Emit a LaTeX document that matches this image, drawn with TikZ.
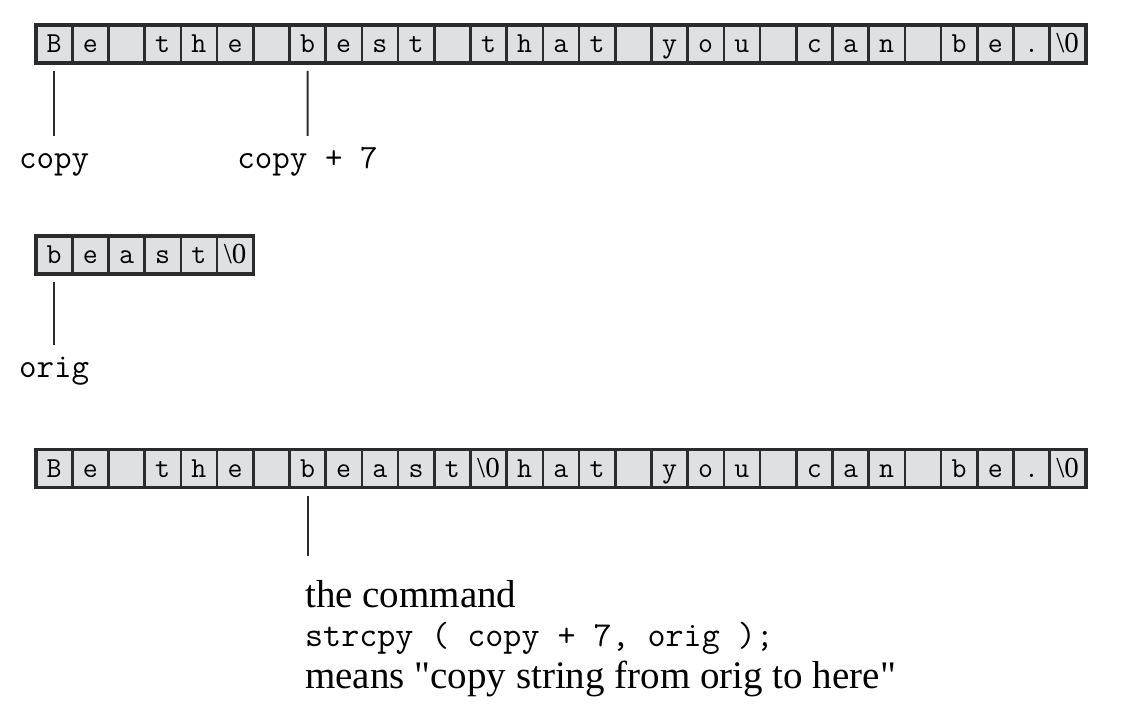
\documentclass[tikz,border=0pt]{standalone}
\usepackage{fontspec}
\setmainfont{Liberation Serif}
\usetikzlibrary{positioning}
\definecolor{cellfill}{HTML}{DFE0E2}
\definecolor{ink}{HTML}{2B2B2B}
\newcommand\nulchar{{\rmfamily\textbackslash 0}}
\tikzset{
  cell/.style={draw=ink, fill=cellfill, line width=2.6pt, minimum width=36.2pt,
    minimum height=38pt, inner sep=0pt, outer sep=0pt, text height=17pt, text depth=0pt,
    font=\fontsize{29}{29}\selectfont\ttfamily},
  rowframe/.style={draw=ink, line width=3.4pt},
  stem/.style={draw=ink, line width=2pt, shorten <=8pt, shorten >=18pt},
  lbl/.style={anchor=base, inner sep=0pt, text height=14pt, text depth=6pt,
    font=\fontsize{34}{34}\selectfont\ttfamily},
  note/.style={anchor=base west, inner sep=0pt, font=\fontsize{39}{39}\selectfont\rmfamily},
  code/.style={anchor=base west, inner sep=0pt, font=\fontsize{35}{35}\selectfont\ttfamily}
}
\begin{document}
\begin{tikzpicture}[x=1pt, y=-1pt]
    \useasboundingbox (0,0) rectangle (1140,706);
    % the copy string
    \foreach \ch [count=\i from 0] in {B,e,{},t,h,e,{},b,e,s,t,{},t,h,a,t,{},y,o,u,{},c,a,n,{},b,e,.,\nulchar}
      \node[cell] (top\i) at (54.1+36.2*\i,44) {\ch};
    \draw[rowframe] (top0.south west) rectangle (top28.north east);
    % the orig string
    \foreach \ch [count=\i from 0] in {b,e,a,s,t,\nulchar}
      \node[cell] (src\i) at (54.1+36.2*\i,255) {\ch};
    \draw[rowframe] (src0.south west) rectangle (src5.north east);
    % after strcpy
    \foreach \ch [count=\i from 0] in {B,e,{},t,h,e,{},b,e,a,s,t,\nulchar,h,a,t,{},y,o,u,{},c,a,n,{},b,e,.,\nulchar}
      \node[cell] (res\i) at (54.1+36.2*\i,468.5) {\ch};
    \draw[rowframe] (res0.south west) rectangle (res28.north east);
    % pointer labels
    \node[lbl] (copy) at (54.1,168) {copy};
    \node[lbl] (copyseven) at (307.5,168) {copy + 7};
    \node[lbl] (orig) at (54.1,377) {orig};
    \draw[stem] (top0.south) -- (copy.north);
    \draw[stem] (top7.south) -- (copyseven.north);
    \draw[stem] (src0.south) -- (orig.north);
    % explanation
    \node[note] (cmd) at (305,607) {the command};
    \node[code] (call) at (305,646) {strcpy ( copy + 7, orig );};
    \node[note] (means) at (305,688) {means \textquotedbl copy string from orig to here\textquotedbl};
    \draw[stem, shorten >=24pt] (res7.south) -- (res7.south |- cmd.north);
\end{tikzpicture}
\end{document}
